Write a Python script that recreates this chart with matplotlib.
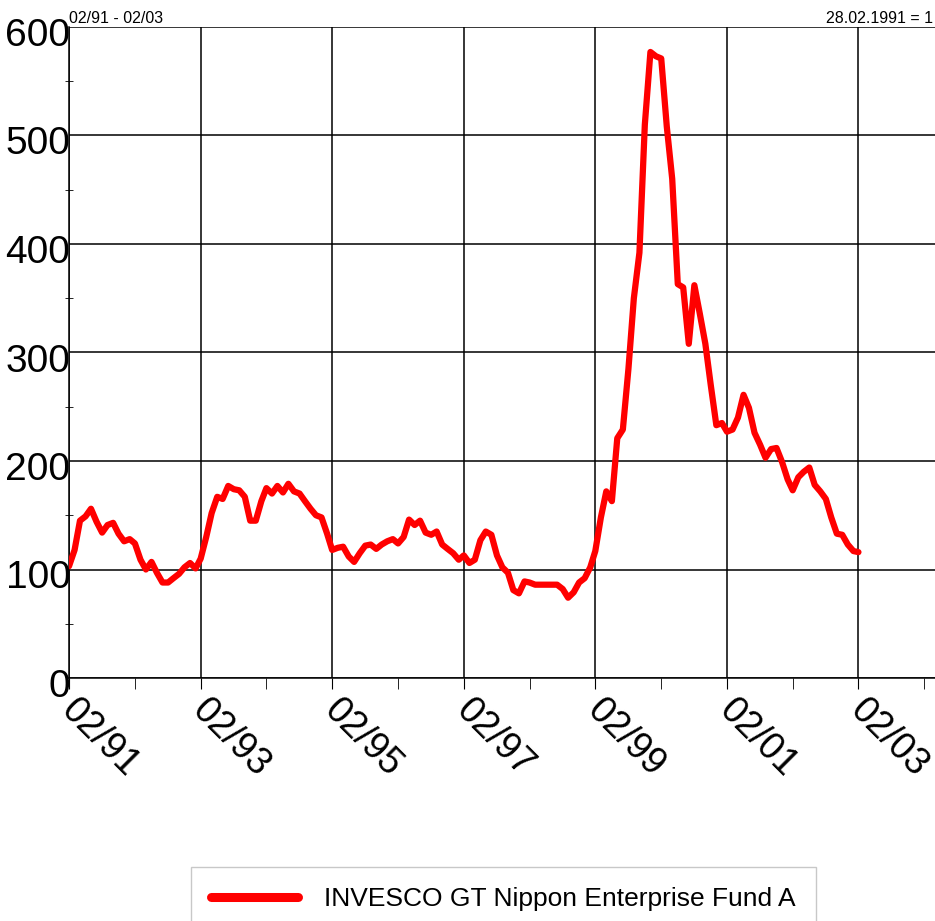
import pandas as pd
import matplotlib
matplotlib.use("Agg")
import matplotlib.pyplot as plt
import matplotlib.dates as mdates
from matplotlib.transforms import ScaledTranslation

plt.rcParams['font.family'] = ['Liberation Sans', 'DejaVu Sans']

# monthly index values, 28.02.1991 = 100
values = [
    103, 118, 145, 149, 156, 144, 134, 141, 143, 133, 126, 128,
    124, 109, 100, 107, 97, 88, 88, 92, 96, 102, 106, 101,
    110, 130, 152, 167, 165, 177, 174, 173, 167, 145, 145, 163,
    175, 170, 177, 171, 179, 172, 170, 163, 156, 150, 148, 133,
    118, 120, 121, 112, 107, 115, 122, 123, 119, 123, 126, 128,
    124, 130, 146, 141, 145, 134, 132, 135, 123, 119, 115, 109,
    113, 106, 109, 127, 135, 132, 113, 102, 97, 81, 78, 89,
    88, 86, 86, 86, 86, 86, 82, 74, 79, 88, 92, 102,
    117, 148, 172, 163, 221, 229, 285, 350, 392, 510, 577, 573,
    571, 508, 460, 363, 360, 308, 362, 336, 308, 270, 233, 235,
    227, 229, 240, 261, 249, 226, 215, 203, 211, 212, 199, 183,
    173, 185, 190, 194, 178, 172, 165, 148, 133, 132, 123, 117,
    116,
]
dates = pd.date_range('1991-02-28', periods=len(values), freq='ME')
fund_name = "INVESCO GT Nippon Enterprise Fund A"

fig = plt.figure(figsize=(9.35, 9.21), dpi=100)
ax = fig.add_axes([69 / 935, 1 - 678 / 921, 1 - 69 / 935, (678 - 27) / 921])

ax.plot(dates, values, color='#ff0000', lw=4.5, solid_joinstyle='round',
        solid_capstyle='round', label=fund_name, zorder=3)

ax.set_ylim(0, 600)
ax.set_xlim(dates[0], dates[0] + pd.DateOffset(months=158))
ax.set_yticks(range(0, 601, 100))
ax.set_yticks(range(50, 600, 100), minor=True)

ax.set_xticks(dates[::24])
ax.set_xticks([dates[0] + pd.DateOffset(months=12 + 24 * k) for k in range(7)], minor=True)
ax.xaxis.set_major_formatter(mdates.DateFormatter('%m/%y'))

ax.grid(which='major', color='black', lw=1.1)
for side in ['top', 'right']:
    ax.spines[side].set_visible(False)
for side in ['left', 'bottom']:
    ax.spines[side].set_color('black')
    ax.spines[side].set_linewidth(1.1)

ax.tick_params(axis='y', which='major', length=0, pad=-1, labelsize=28)
ax.tick_params(axis='y', which='minor', direction='inout', length=6)
ax.tick_params(axis='x', which='both', direction='out', length=8, labelsize=27, pad=2)
shift = ScaledTranslation(10 / 100, 0, fig.dpi_scale_trans)
for lbl in ax.get_xticklabels():
    lbl.set_rotation(-45)
    lbl.set_rotation_mode('anchor')
    lbl.set_ha('left')
    lbl.set_va('top')
    lbl.set_transform(lbl.get_transform() + shift)
for lbl in ax.get_yticklabels():
    lbl.set_transform(lbl.get_transform() + ScaledTranslation(0, -5 / 100, fig.dpi_scale_trans))

fig.text(69 / 935, 1 - 26 / 921, "02/91 - 02/03", fontsize=11.5, va='bottom', ha='left')
fig.text(933 / 935, 1 - 26 / 921, "28.02.1991 = 1", fontsize=11.5, va='bottom', ha='right')

leg = fig.legend(loc='upper left', bbox_to_anchor=(191 / 935, 1 - 867 / 921),
                 fontsize=19, fancybox=False, edgecolor='#c8c8c8', framealpha=1,
                 handlelength=3.3, borderpad=0.75, borderaxespad=0, handletextpad=1.0)
leg.get_lines()[0].set_linewidth(6.5)

fig.savefig("out.png", dpi=100)
